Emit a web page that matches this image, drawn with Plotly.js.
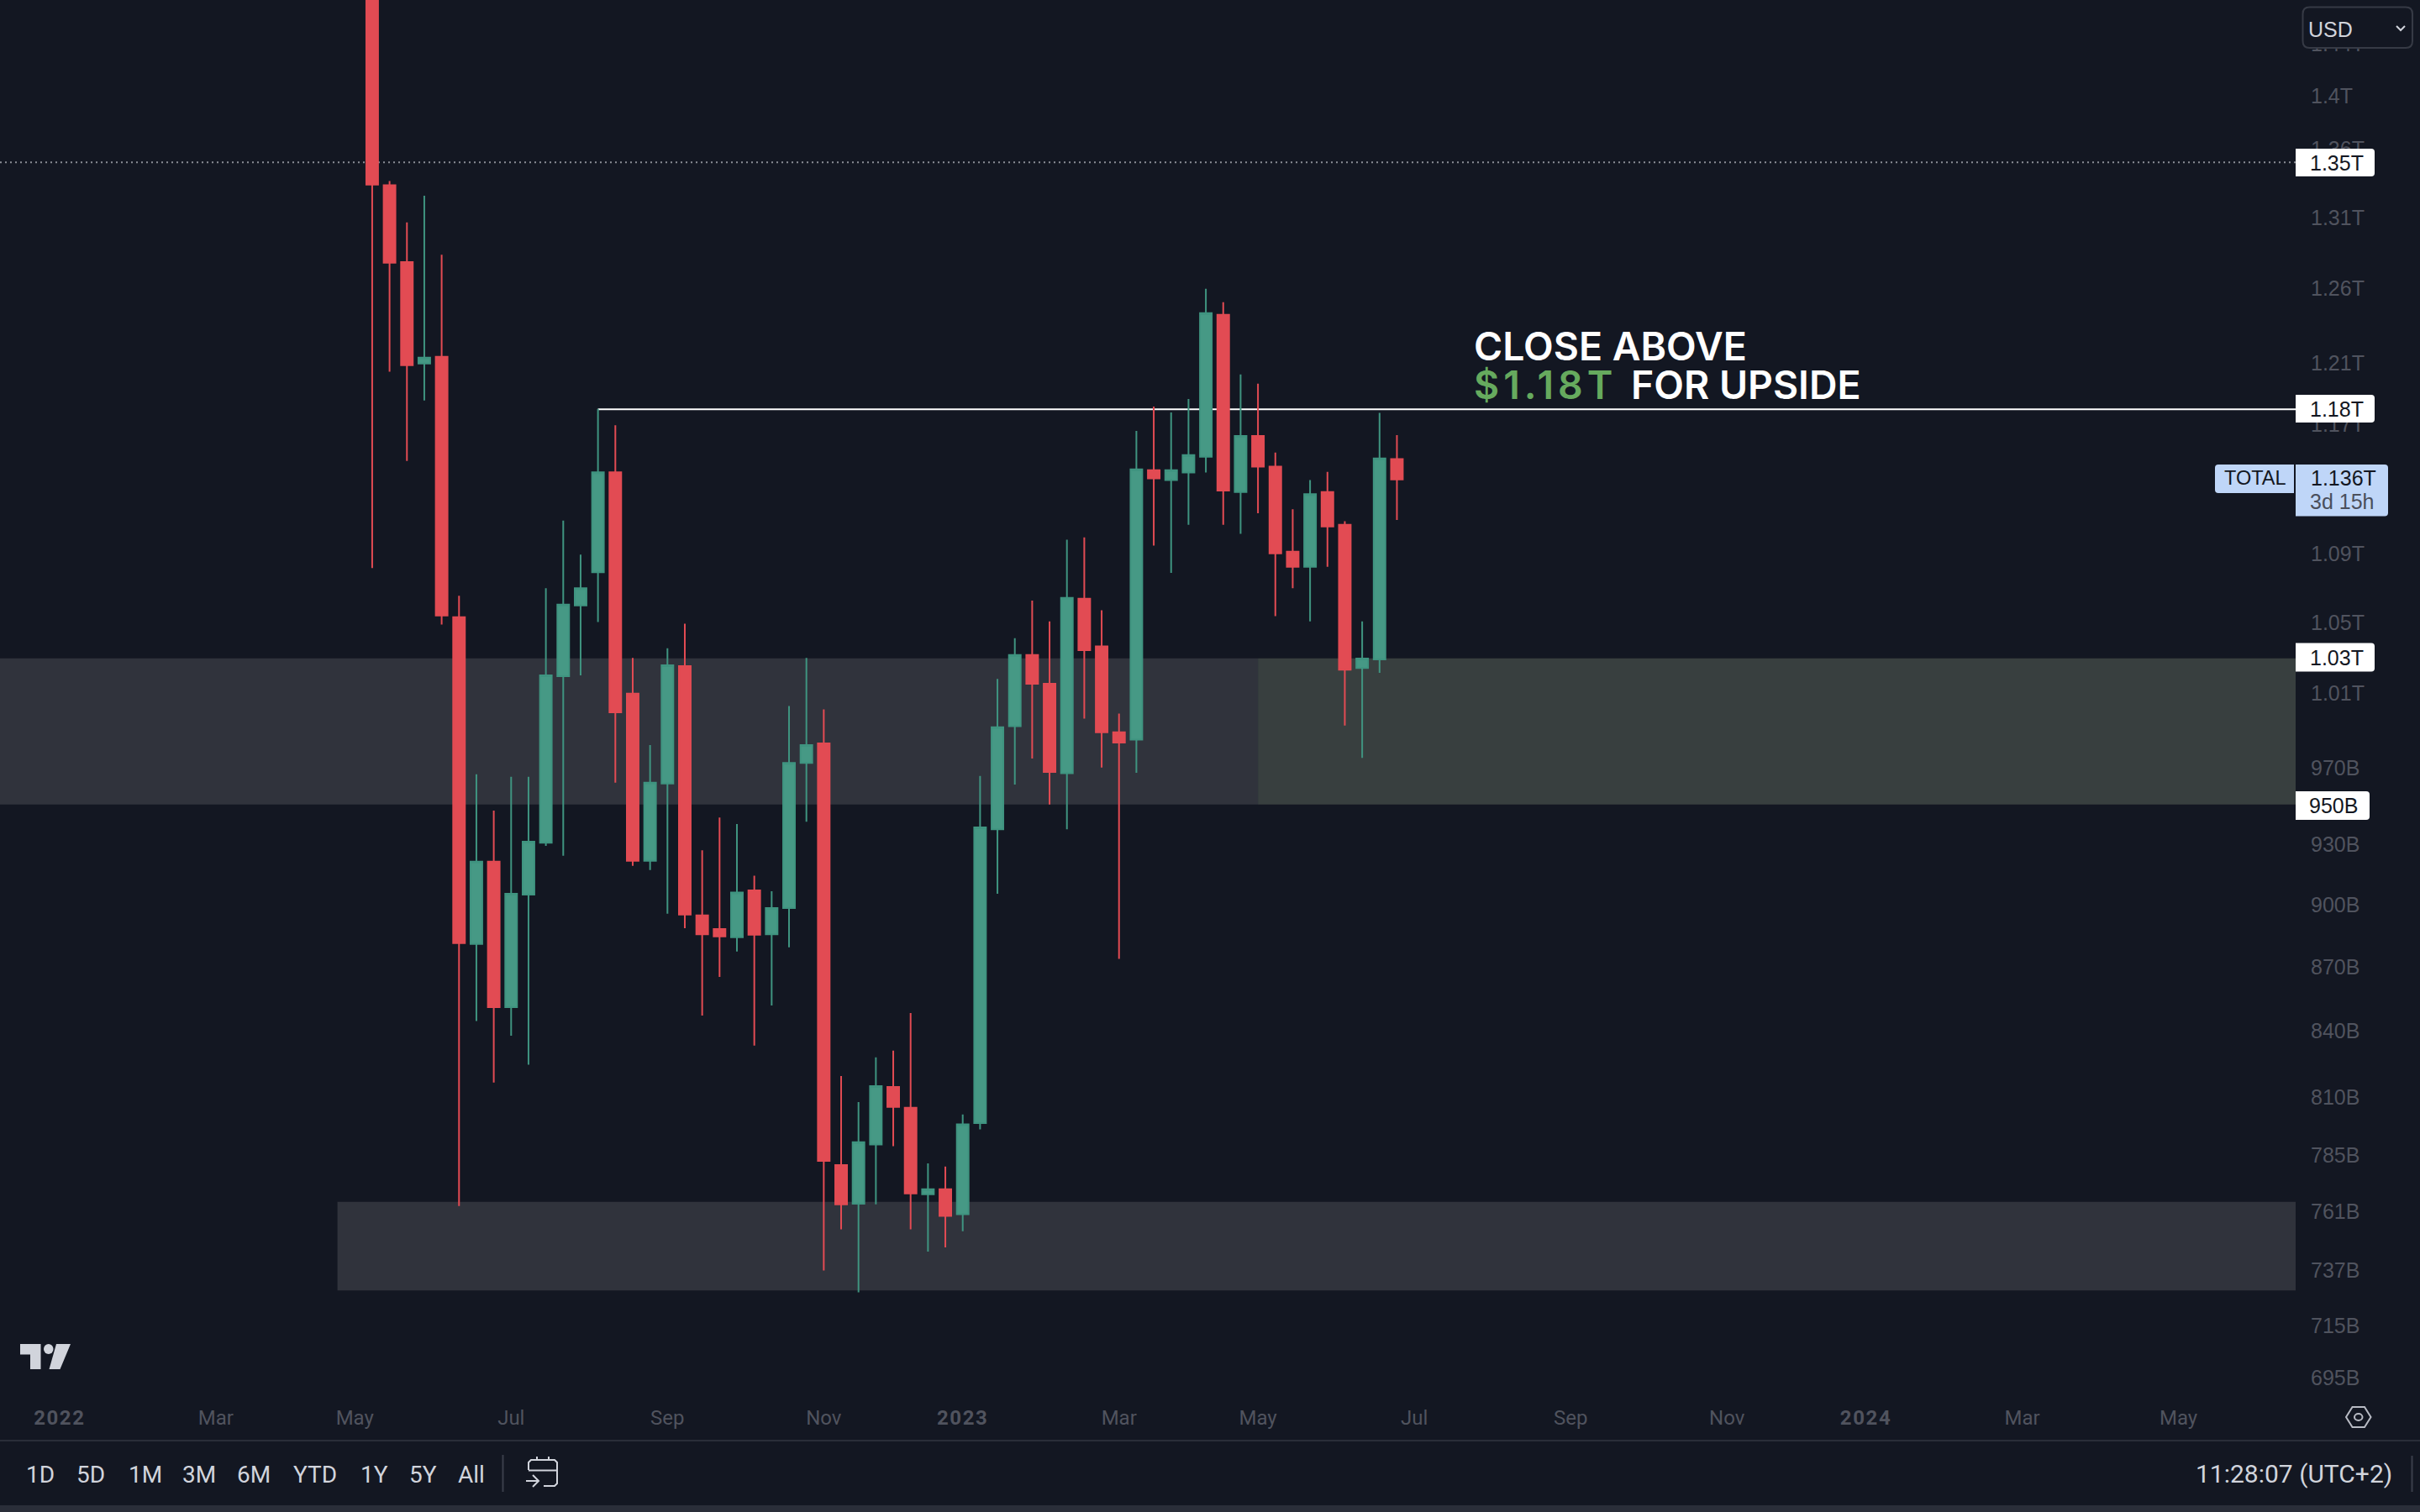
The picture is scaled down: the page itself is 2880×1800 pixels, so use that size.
<!DOCTYPE html>
<html>
<head>
<meta charset="utf-8">
<script src="https://cdn.plot.ly/plotly-3.0.1.min.js"></script>
<style>
  html, body { margin: 0; padding: 0; background: #131722; }
  #chart { width: 2880px; height: 1800px; }
</style>
</head>
<body>
<div id="chart"></div>
<script>
// weekly candles, prices in billions of USD
const weeks = [
  "2022-05-09", "2022-05-16", "2022-05-23", "2022-05-30", "2022-06-06", "2022-06-13", "2022-06-20", "2022-06-27",
  "2022-07-04", "2022-07-11", "2022-07-18", "2022-07-25", "2022-08-01", "2022-08-08", "2022-08-15", "2022-08-22",
  "2022-08-29", "2022-09-05", "2022-09-12", "2022-09-19", "2022-09-26", "2022-10-03", "2022-10-10", "2022-10-17",
  "2022-10-24", "2022-10-31", "2022-11-07", "2022-11-14", "2022-11-21", "2022-11-28", "2022-12-05", "2022-12-12",
  "2022-12-19", "2022-12-26", "2023-01-02", "2023-01-09", "2023-01-16", "2023-01-23", "2023-01-30", "2023-02-06",
  "2023-02-13", "2023-02-20", "2023-02-27", "2023-03-06", "2023-03-13", "2023-03-20", "2023-03-27", "2023-04-03",
  "2023-04-10", "2023-04-17", "2023-04-24", "2023-05-01", "2023-05-08", "2023-05-15", "2023-05-22", "2023-05-29",
  "2023-06-05", "2023-06-12", "2023-06-19", "2023-06-26",
];
const opens = [
  1560, 1333.2, 1278.4, 1209.5, 1214.0, 1053.0, 880.9, 921.4,
  851.0, 905.0, 931.0, 1019.6, 1059.9, 1079.2, 1139.8, 1010.0,
  921.9, 961.6, 1025.3, 894.8, 888.1, 884.2, 907.1, 885.6,
  898.4, 972.5, 982.9, 780.7, 764.4, 789.5, 814.7, 805.5,
  768.4, 770.5, 760.0, 798.8, 937.9, 992.2, 1031.5, 1015.5,
  967.0, 1063.7, 1036.4, 988.9, 984.9, 1141.1, 1134.9, 1139.6,
  1149.5, 1242.2, 1127.5, 1162.6, 1143.3, 1091.4, 1082.4, 1127.5,
  1107.6, 1024.2, 1029.1, 1148.0,
];
const highs = [
  1620, 1336.3, 1306.5, 1325.7, 1283.6, 1065.5, 966.5, 947.5,
  965.1, 965.1, 1069.9, 1110.1, 1089.7, 1180, 1169.5, 1029.9,
  982.0, 1035.3, 1049.3, 927.2, 943.9, 940.6, 914.4, 906.7,
  1003.2, 1029.9, 1001.3, 819.6, 808.0, 828.0, 831.1, 848.3,
  781.4, 780.1, 802.6, 965.6, 1018.1, 1041.0, 1062.6, 1050.7,
  1098.6, 1100.0, 1057.0, 999.1, 1165.8, 1181.5, 1177.7, 1186.4,
  1260.0, 1250.8, 1202.4, 1196.3, 1152.1, 1117.0, 1134.9, 1140.1,
  1109.7, 1050.7, 1177.4, 1163.2,
];
const lows = [
  1081.7, 1204.2, 1146.9, 1185.4, 1048.8, 763.4, 844.6, 816.7,
  837.9, 824.7, 929.4, 924.4, 1020.1, 1050.3, 962.0, 919.3,
  917.2, 895.6, 888.5, 847.1, 865.2, 877.3, 833.4, 851.8,
  879.3, 941.7, 737.0, 753.8, 728.3, 764.1, 788.8, 753.8,
  744.7, 746.4, 753.0, 796.1, 905.4, 961.1, 974.8, 950.6,
  937.9, 996.3, 970.0, 873.8, 967.3, 1095.1, 1078.9, 1107.6,
  1139.6, 1107.6, 1102.1, 1114.6, 1053.6, 1069.9, 1050.7, 1082.4,
  992.5, 975.2, 1021.5, 1110.5,
];
const closes = [
  1333.7, 1278.0, 1208.4, 1213.5, 1054.0, 881.3, 921.4, 851.0,
  905.4, 931.5, 1020.1, 1060.3, 1069.9, 1139.8, 999.7, 921.9,
  962.0, 1025.8, 895.2, 885.6, 884.6, 906.0, 885.4, 898.4,
  972.5, 982.0, 782.5, 764.1, 790.5, 815.1, 805.9, 768.7,
  770.5, 759.3, 798.3, 938.8, 991.6, 1031.5, 1015.5, 967.7,
  1064.2, 1034.3, 988.9, 983.4, 1141.6, 1136.0, 1141.1, 1150.6,
  1243.3, 1128.5, 1162.6, 1143.3, 1090.4, 1082.4, 1126.3, 1106.6,
  1023.3, 1029.5, 1148.4, 1135.4,
];

const priceTicks = [1440, 1400, 1360, 1310, 1260, 1210, 1170, 1090, 1050, 1010, 970, 930, 900, 870, 840, 810, 785, 761, 737, 715, 695];
const priceLabels = ["1.44T", "1.4T", "1.36T", "1.31T", "1.26T", "1.21T", "1.17T", "1.09T", "1.05T", "1.01T", "970B", "930B", "900B", "870B", "840B", "810B", "785B", "761B", "737B", "715B", "695B"];
const timeTicks = ["2022-01-03", "2022-03-07", "2022-05-02", "2022-07-04", "2022-09-05", "2022-11-07", "2023-01-02", "2023-03-06", "2023-05-01", "2023-07-03", "2023-09-04", "2023-11-06", "2024-01-01", "2024-03-04", "2024-05-06"];
const yearMark = (y) => '<b><span style="letter-spacing:1.6px">' + y + "</span></b>";
const timeLabels = [yearMark("2022"), "Mar", "May", "Jul", "Sep", "Nov", yearMark("2023"), "Mar", "May", "Jul", "Sep", "Nov", yearMark("2024"), "Mar", "May"];
const rangeButtons = ["1D", "5D", "1M", "3M", "6M", "YTD", "1Y", "5Y", "All"];
const rangeButtonX = [47.5, 107.5, 172.5, 237, 302, 375, 445, 503.5, 561];

const W = 2880, H = 1800;
const xStart = "2021-12-10", xEnd = "2024-06-22 05:00";
const bg = "#131722", axisGrey = "#50535e", labelBlue = "#bfd6f8";
const red = "#e24b53", green = "#469985";

// page pixels to paper coordinates (margins are zero so paper is the whole page)
const px = (x) => x / W;
const py = (y) => 1 - y / H;
const path = (pts, close) =>
  "M" + pts.map((p) => px(p[0]) + "," + py(p[1])).join("L") + (close ? "Z" : "");

function roundBox(x0, y0, x1, y1, rl, rr) {
  let d = "M" + px(x0 + rl) + "," + py(y0) + "L" + px(x1 - rr) + "," + py(y0);
  d += "Q" + px(x1) + "," + py(y0) + " " + px(x1) + "," + py(y0 + rr);
  d += "L" + px(x1) + "," + py(y1 - rr);
  d += "Q" + px(x1) + "," + py(y1) + " " + px(x1 - rr) + "," + py(y1);
  d += "L" + px(x0 + rl) + "," + py(y1);
  d += "Q" + px(x0) + "," + py(y1) + " " + px(x0) + "," + py(y1 - rl);
  d += "L" + px(x0) + "," + py(y0 + rl);
  d += "Q" + px(x0) + "," + py(y0) + " " + px(x0 + rl) + "," + py(y0) + "Z";
  return d;
}

const paperShape = (d, fill, stroke, width) => ({
  type: "path", xref: "paper", yref: "paper", path: d,
  fillcolor: fill || "rgba(0,0,0,0)",
  line: { color: stroke || "rgba(0,0,0,0)", width: width || 0 },
  layer: "above",
});
const zone = (x0, x1, y0, y1, color) => ({
  type: "rect", xref: "x", yref: "y", x0: x0, x1: x1, y0: y0, y1: y1,
  fillcolor: color, line: { width: 0 }, layer: "below",
});

const shapes = [
  zone(xStart, "2023-05-01", 950.6, 1029.6, "#30333c"),
  zone("2023-05-01", xEnd, 950.6, 1029.6, "#383f3f"),
  zone("2022-04-25", xEnd, 729, 765.2, "#30333c"),
  { type: "line", xref: "x", yref: "y", x0: xStart, x1: xEnd, y0: 1350, y1: 1350, layer: "below",
    line: { color: "#8b8e96", width: 2, dash: "2px,4px" } },
  { type: "line", xref: "x", yref: "y", x0: "2022-08-08", x1: xEnd, y0: 1179.7, y1: 1179.7, layer: "below",
    line: { color: "#ffffff", width: 2 } },

  // price labels
  paperShape(roundBox(2732, 177, 2826, 210, 0, 4), "#ffffff"),
  paperShape(roundBox(2732, 470, 2826, 503, 0, 4), "#ffffff"),
  paperShape(roundBox(2732, 765.5, 2826, 799.5, 0, 4), "#ffffff"),
  paperShape(roundBox(2732, 942, 2820, 976, 0, 4), "#ffffff"),
  paperShape(roundBox(2636, 553, 2730, 587, 4, 0), labelBlue),
  paperShape(roundBox(2732, 553, 2842, 614.5, 0, 4), labelBlue),

  // USD dropdown
  paperShape(roundBox(2740.5, 8.5, 2871, 57, 8, 8), bg, "#363a45", 2),
  paperShape(path([[2852, 31], [2857, 36], [2862, 31]]), null, "#d1d4dc", 2),

  // time axis and toolbar
  paperShape(path([[0, 1715], [W, 1715]]), null, "#2a2e39", 2),
  paperShape(path([[0, 1792], [W, 1792], [W, H], [0, H]], true), "#2a2e39"),
  paperShape(path([[598.5, 1732], [598.5, 1776]]), null, "#3a3e4a", 2),
  paperShape(path([[2870.5, 1733], [2870.5, 1776]]), null, "#3a3e4a", 2),

  // calendar icon
  paperShape(path([[629, 1750], [629, 1741], [632, 1738], [660, 1738], [663, 1741], [663, 1766], [660, 1769], [647, 1769]]), null, "#d1d4dc", 2),
  paperShape(path([[629, 1750.5], [663, 1750.5]]), null, "#d1d4dc", 2),
  paperShape(path([[639, 1734], [639, 1738]]), null, "#d1d4dc", 2),
  paperShape(path([[653, 1734], [653, 1738]]), null, "#d1d4dc", 2),
  paperShape(path([[626, 1763], [641, 1763]]), null, "#d1d4dc", 2),
  paperShape(path([[634, 1756], [641, 1763], [634, 1770]]), null, "#d1d4dc", 2),

  // logo
  paperShape(path([[24, 1600], [48.5, 1600], [48.5, 1630], [36, 1630], [36, 1612.5], [24, 1612.5]], true), "#d1d4dc"),
  paperShape(path([[67, 1600], [84, 1600], [71.5, 1630], [58.5, 1630]], true), "#d1d4dc"),
  { type: "circle", xref: "paper", yref: "paper", x0: px(52), x1: px(63.5), y0: py(1600), y1: py(1612),
    fillcolor: "#d1d4dc", line: { width: 0 }, layer: "above" },

  // chart settings icon
  paperShape(path([[2792, 1687], [2799.5, 1675], [2814, 1675], [2821.5, 1687], [2814, 1699], [2799.5, 1699]], true), null, "#b8bbc4", 2),
  { type: "circle", xref: "paper", yref: "paper", x0: px(2802), x1: px(2811.5), y0: py(1683), y1: py(1691),
    fillcolor: "rgba(0,0,0,0)", line: { color: "#b8bbc4", width: 2 }, layer: "above" },
];

function label(text, x, y, color, size, family, anchor, weight) {
  return {
    xref: "paper", yref: "paper", x: px(x), y: py(y),
    text: text, showarrow: false, borderpad: 0,
    xanchor: anchor || "left", yanchor: "middle",
    font: { color: color, size: size, family: family, weight: weight || 400 },
  };
}

const sans = "Liberation Sans";
const annotations = [
  label("CLOSE ABOVE", 1753, 412, "#ffffff", 46.4, "Inter", "left", 600),
  label('<span style="letter-spacing:5px">$1.18T</span>', 1753, 458, "#66aa5e", 46.4, "Inter", "left", 600),
  label("FOR UPSIDE", 1940, 458, "#ffffff", 46.4, "Inter", "left", 600),
  label("1.35T", 2748, 193.5, "#131722", 25, sans),
  label("1.18T", 2748, 486.5, "#131722", 25, sans),
  label("1.03T", 2748, 782.5, "#131722", 25, sans),
  label("950B", 2747, 959, "#131722", 25, sans),
  label("TOTAL", 2646, 569.5, "#131722", 23.5, sans),
  label("1.136T", 2749, 569.5, "#131722", 25, sans),
  label("3d 15h", 2748, 597.5, "#4a4f5c", 25, sans),
  label("USD", 2746, 35, "#d1d4dc", 25, sans),
  label("11:28:07 (UTC+2)", 2612, 1754.5, "#d1d4dc", 30, "Roboto"),
];
rangeButtons.forEach((b, i) => {
  annotations.push(label(b, rangeButtonX[i], 1755, "#d1d4dc", 28, "Roboto", "center"));
});

const trace = {
  type: "candlestick",
  x: weeks, open: opens, high: highs, low: lows, close: closes,
  increasing: { line: { color: "#3f9480", width: 2 }, fillcolor: green },
  decreasing: { line: { color: red, width: 2 }, fillcolor: red },
  hoverinfo: "skip",
  showlegend: false,
};

const layout = {
  width: W,
  height: H,
  margin: { l: 0, r: 0, t: 0, b: 0, pad: 0 },
  paper_bgcolor: bg,
  plot_bgcolor: bg,
  showlegend: false,
  dragmode: false,
  boxgap: 0.1,
  boxgroupgap: 0.25,
  xaxis: {
    type: "date",
    domain: [0, 2732 / W],
    range: [xStart, xEnd],
    anchor: "y",
    rangeslider: { visible: false },
    tickmode: "array",
    tickvals: timeTicks,
    ticktext: timeLabels,
    ticks: "outside",
    ticklen: 6,
    tickcolor: bg,
    tickfont: { family: "Roboto", size: 24, color: axisGrey },
    showgrid: false,
    zeroline: false,
    showline: false,
  },
  yaxis: {
    type: "log",
    domain: [(H - 1660) / H, 1],
    range: [Math.log10(688.8), Math.log10(1475.2)],
    side: "right",
    anchor: "x",
    tickmode: "array",
    tickvals: priceTicks,
    ticktext: priceLabels,
    ticks: "outside",
    ticklen: 12,
    tickcolor: bg,
    tickfont: { family: sans, size: 25, color: axisGrey },
    showgrid: false,
    zeroline: false,
    showline: false,
  },
  shapes: shapes,
  annotations: annotations,
};

Plotly.newPlot("chart", [trace], layout, { displayModeBar: false, staticPlot: true });
</script>
</body>
</html>
